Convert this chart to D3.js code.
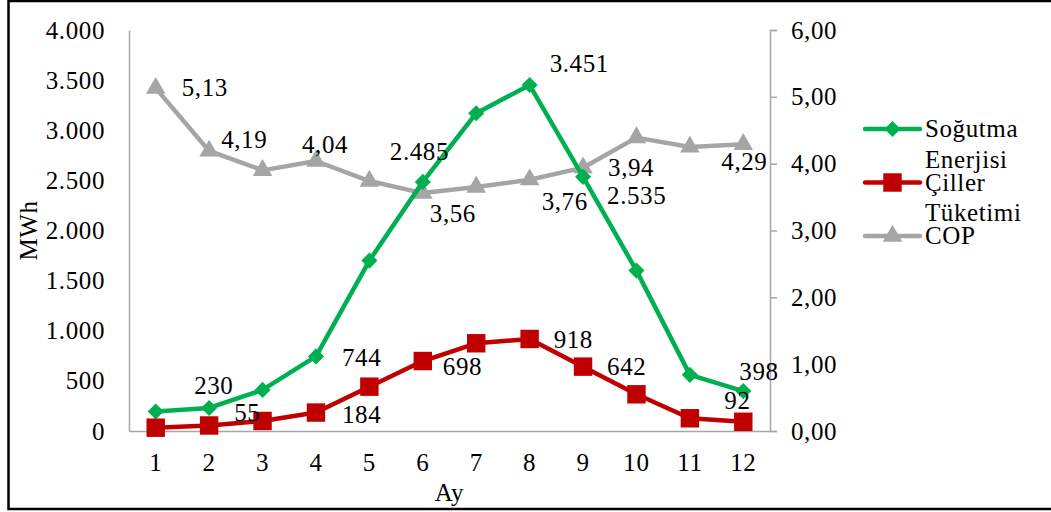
<!DOCTYPE html>
<html>
<head>
<meta charset="utf-8">
<script src="https://cdn.jsdelivr.net/npm/d3@7"></script>
<style>
  html, body { margin: 0; padding: 0; background: #fff; }
  svg { display: block; font-family: "Liberation Serif", serif; }
  svg text { letter-spacing: 0.6px; }
</style>
</head>
<body>
<svg id="chart" width="1051" height="512"></svg>
<script>
// Months
const months = [1, 2, 3, 4, 5, 6, 7, 8, 9, 10, 11, 12];
// Cooling energy (MWh)
const sogutmaEnerjisi = [195, 230, 410, 744, 1700, 2485, 3170, 3451, 2535, 1600, 560, 398];
// Chiller consumption (MWh)
const cillerTuketimi = [33, 55, 100, 184, 442, 698, 875, 918, 642, 366, 127, 92];
// COP
const cop = [5.13, 4.19, 3.90, 4.04, 3.74, 3.56, 3.65, 3.76, 3.94, 4.39, 4.25, 4.29];
// Axis ticks
const leftTicks = [0, 500, 1000, 1500, 2000, 2500, 3000, 3500, 4000];
const rightTicks = [0, 1, 2, 3, 4, 5, 6];
// Months whose values carry a label
const sogutmaLabeled = [2, 4, 6, 8, 9, 12];
const cillerLabeled = [2, 4, 6, 8, 9, 12];
const copLabeled = [1, 2, 4, 6, 8, 9, 12];

const trLocale = d3.formatLocale({ decimal: ",", thousands: ".", grouping: [3], currency: ["", " TL"] });
const fmtInt = trLocale.format(",.0f");
const fmt2 = trLocale.format(",.2f");

const svg = d3.select("#chart");
const FONT = 25;

const plot = { left: 129, right: 770, top: 30, bottom: 431 };

const x = d3.scaleBand().domain(months).range([plot.left, plot.right]);
const xc = m => x(m) + x.bandwidth() / 2;
const yL = d3.scaleLinear().domain([0, 4000]).range([plot.bottom, plot.top]);
const yR = d3.scaleLinear().domain([0, 6]).range([plot.bottom, plot.top]);

const axisGray = "#a6a6a6";
const colors = { green: "#00b050", red: "#c00000", gray: "#a5a5a5" };

// Outer frame
svg.append("rect")
  .attr("x", 8.5).attr("y", 1).attr("width", 1060).attr("height", 508)
  .attr("fill", "none").attr("stroke", "#000").attr("stroke-width", 2.5);

function styleAxis(g) {
  g.attr("font-family", null).attr("font-size", null);
  g.select(".domain").attr("stroke", axisGray).attr("stroke-width", 1.5);
  g.selectAll(".tick line").attr("stroke", axisGray).attr("stroke-width", 1.5);
  g.selectAll("text").attr("font-size", FONT).attr("fill", "#000");
}

// Left axis (no tick marks)
const gL = svg.append("g").attr("transform", `translate(${plot.left},0)`)
  .call(d3.axisLeft(yL).tickValues(leftTicks).tickSize(0).tickPadding(24).tickFormat(fmtInt));
styleAxis(gL);
gL.selectAll("text").attr("dy", "0.32em");

// Right axis with outward ticks
const gR = svg.append("g").attr("transform", `translate(${plot.right},0)`)
  .call(d3.axisRight(yR).tickValues(rightTicks).tickSize(7).tickSizeOuter(7).tickPadding(14).tickFormat(fmt2));
styleAxis(gR);
gR.selectAll("text").attr("dy", "0.32em");

// Bottom axis
const gB = svg.append("g").attr("transform", `translate(0,${plot.bottom})`)
  .call(d3.axisBottom(x).tickSize(0).tickPadding(22));
styleAxis(gB);

// Axis titles
svg.append("text")
  .attr("transform", `translate(37,${(plot.top + plot.bottom) / 2}) rotate(-90)`)
  .attr("text-anchor", "middle").attr("font-size", FONT).text("MWh");
svg.append("text")
  .attr("x", (plot.left + plot.right) / 2).attr("y", 501)
  .attr("text-anchor", "middle").attr("font-size", FONT).text("Ay");

// Marker shapes
const diamond = d3.symbol().type(d3.symbolSquare).size(130);
const square = d3.symbol().type(d3.symbolSquare).size(340);
const triangle = d3.symbol().type(d3.symbolTriangle).size(165);

function drawSeries(values, yScale, color, shape, rotate) {
  const pts = months.map((m, i) => [xc(m), yScale(values[i])]);
  svg.append("path")
    .attr("d", d3.line()(pts))
    .attr("fill", "none").attr("stroke", color).attr("stroke-width", 4.5)
    .attr("stroke-linejoin", "round");
  svg.append("g").selectAll("path").data(pts).join("path")
    .attr("d", shape())
    .attr("transform", d => `translate(${d[0]},${d[1]})${rotate ? " rotate(45)" : ""}`)
    .attr("fill", color);
}

drawSeries(cop, yR, colors.gray, triangle, false);
drawSeries(sogutmaEnerjisi, yL, colors.green, diamond, true);
drawSeries(cillerTuketimi, yL, colors.red, square, false);

// Data labels, placed beside their points
const labelOffsets = {
  sogutma: { 2: [-15, -14], 4: [26, 10], 6: [-33, -22], 8: [20, -13], 9: [24, 27], 12: [-4, -11] },
  ciller: { 2: [25, -4], 4: [26, 10], 6: [20, 14], 8: [24, 9], 9: [24, 8], 12: [-19, -13] },
  cop: { 1: [26, 8], 2: [12, -3], 4: [-14, -8], 6: [7, 29], 8: [12, 30], 9: [25, 8], 12: [-22, 26] }
};

function drawLabels(values, labeled, yScale, offsets, format) {
  svg.append("g").selectAll("text").data(labeled).join("text")
    .attr("x", m => xc(m) + offsets[m][0])
    .attr("y", m => yScale(values[m - 1]) + offsets[m][1])
    .attr("font-size", FONT)
    .text(m => format(values[m - 1]));
}

drawLabels(sogutmaEnerjisi, sogutmaLabeled, yL, labelOffsets.sogutma, fmtInt);
drawLabels(cillerTuketimi, cillerLabeled, yL, labelOffsets.ciller, fmtInt);
drawLabels(cop, copLabeled, yR, labelOffsets.cop, fmt2);

// Legend
const legendItems = [
  { lines: ["Soğutma", "Enerjisi"], color: colors.green, shape: diamond, rotate: true, y: 129 },
  { lines: ["Çiller", "Tüketimi"], color: colors.red, shape: square, rotate: false, y: 182.5 },
  { lines: ["COP"], color: colors.gray, shape: triangle, rotate: false, y: 236 }
];
const lg = svg.append("g");
legendItems.forEach(it => {
  lg.append("line").attr("x1", 865).attr("x2", 920).attr("y1", it.y).attr("y2", it.y)
    .attr("stroke", it.color).attr("stroke-width", 4.5).attr("stroke-linecap", "round");
  lg.append("path").attr("d", it.shape())
    .attr("transform", `translate(892.5,${it.y})${it.rotate ? " rotate(45)" : ""}`)
    .attr("fill", it.color);
  it.lines.forEach((t, k) => {
    lg.append("text").attr("x", 925).attr("y", it.y + 8 + k * 30.5)
      .attr("font-size", FONT).text(t);
  });
});
</script>
</body>
</html>
